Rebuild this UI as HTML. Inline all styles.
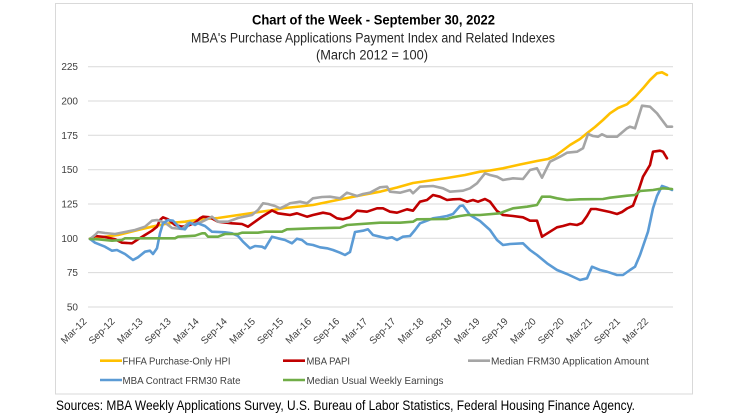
<!DOCTYPE html>
<html>
<head>
<meta charset="utf-8">
<style>
  html, body { margin:0; padding:0; background:#ffffff; }
  body { width:756px; height:420px; overflow:hidden; }
  svg { display:block; }
  text { font-family: "Liberation Sans", Arial, sans-serif; }
</style>
</head>
<body>
<svg width="756" height="420" viewBox="0 0 756 420" xmlns="http://www.w3.org/2000/svg">
  <rect x="0" y="0" width="756" height="420" fill="#ffffff"/>
  <!-- chart box -->
  <rect x="55.5" y="3.5" width="637" height="390.5" fill="#ffffff" stroke="#d9d9d9" stroke-width="1"/>

  <!-- titles -->
  <text x="252" y="24.5" font-size="14" font-weight="bold" fill="#000" textLength="243" lengthAdjust="spacingAndGlyphs">Chart of the Week - September 30, 2022</text>
  <text x="191" y="42.5" font-size="13.5" fill="#262626" textLength="364" lengthAdjust="spacingAndGlyphs">MBA's Purchase Applications Payment Index and Related Indexes</text>
  <text x="316" y="59.3" font-size="13.5" fill="#262626" textLength="112" lengthAdjust="spacingAndGlyphs">(March 2012 = 100)</text>

  <!-- gridlines -->
  <g stroke="#d9d9d9" stroke-width="1">
    <line x1="88" y1="66.7" x2="673" y2="66.7"/>
    <line x1="88" y1="101" x2="673" y2="101"/>
    <line x1="88" y1="135.3" x2="673" y2="135.3"/>
    <line x1="88" y1="169.7" x2="673" y2="169.7"/>
    <line x1="88" y1="204" x2="673" y2="204"/>
    <line x1="88" y1="238.3" x2="673" y2="238.3"/>
    <line x1="88" y1="272.6" x2="673" y2="272.6"/>
    <line x1="88" y1="307" x2="673" y2="307"/>
  </g>

  <!-- y labels -->
  <g font-size="10" fill="#404040" text-anchor="end">
    <text x="78" y="70.2">225</text>
    <text x="78" y="104.5">200</text>
    <text x="78" y="138.8">175</text>
    <text x="78" y="173.2">150</text>
    <text x="78" y="207.5">125</text>
    <text x="78" y="241.8">100</text>
    <text x="78" y="276.1">75</text>
    <text x="78" y="310.5">50</text>
  </g>

  <!-- x labels -->
  <g font-size="10" fill="#404040" text-anchor="end">
    <text transform="translate(87.3,322) rotate(-45)">Mar-12</text>
    <text transform="translate(115.4,322) rotate(-45)">Sep-12</text>
    <text transform="translate(143.5,322) rotate(-45)">Mar-13</text>
    <text transform="translate(171.5,322) rotate(-45)">Sep-13</text>
    <text transform="translate(199.6,322) rotate(-45)">Mar-14</text>
    <text transform="translate(227.7,322) rotate(-45)">Sep-14</text>
    <text transform="translate(255.8,322) rotate(-45)">Mar-15</text>
    <text transform="translate(283.9,322) rotate(-45)">Sep-15</text>
    <text transform="translate(311.9,322) rotate(-45)">Mar-16</text>
    <text transform="translate(340,322) rotate(-45)">Sep-16</text>
    <text transform="translate(368.1,322) rotate(-45)">Mar-17</text>
    <text transform="translate(396.2,322) rotate(-45)">Sep-17</text>
    <text transform="translate(424.3,322) rotate(-45)">Mar-18</text>
    <text transform="translate(452.3,322) rotate(-45)">Sep-18</text>
    <text transform="translate(480.4,322) rotate(-45)">Mar-19</text>
    <text transform="translate(508.5,322) rotate(-45)">Sep-19</text>
    <text transform="translate(536.6,322) rotate(-45)">Mar-20</text>
    <text transform="translate(564.7,322) rotate(-45)">Sep-20</text>
    <text transform="translate(592.7,322) rotate(-45)">Mar-21</text>
    <text transform="translate(620.8,322) rotate(-45)">Sep-21</text>
    <text transform="translate(648.9,322) rotate(-45)">Mar-22</text>
  </g>

  <!-- series -->
  <g fill="none" stroke-width="2.6" stroke-linejoin="round" stroke-linecap="round">
    <!-- FHFA yellow -->
    <polyline stroke="#FFC000" points="90,238.5 100,237.5 110,236 118,235 130,232 140,229.5 152,226.7 165,224 175,222.5 185,221.7 200,219.5 218,218 235,215.5 252,213 270,210.5 285,208 300,206.5 313,205 330,201.5 347,198 365,194.5 380,191.7 397,187.5 413,183 430,180.5 447,178 465,175 480,171.7 490,170.5 503,168.3 520,164.5 537,161 548,159 555,156 562,151 570,145 580,139 587,133.3 595,127 603,120 610,113.3 618,108 627,104.3 635,97 643,88.3 650,80 657,73.3 662,72.3 667,75"/>
    <!-- MBA PAPI red -->
    <polyline stroke="#C00000" points="90,239 95,236 105,237 115,239.3 122,242.7 132,243.3 138,239.3 145,235 152,230.7 157,226.7 160,220 163,217.3 168,219.3 175,225 182,226.7 188,225.7 195,222.7 200,218.3 203,216.7 210,217.3 218,221.7 232,223.3 242,224 248,226.7 255,221.7 262,216.7 272,210.5 278,213.3 285,214.3 290,215 297,213.3 307,216.7 313,215 323,212.7 330,214 337,218.3 343,219.3 350,217.3 357,210.7 367,211.7 377,208.3 383,208.3 390,211.7 397,212.7 407,209.3 413,210.7 420,201.7 427,200 433,195 440,196.7 447,200 453,199.3 460,199 467,201.7 473,200 478,201.7 485,199 490,201.7 497,211 503,215 513,216 523,217.3 530,220.7 537,220.7 542,236.7 550,231.7 557,227.3 563,226 570,224 577,225 582,223 587,216 591,209 596,209 603,210.5 610,212 617,214 622,212 627,208.5 633,205.7 637,195 643,176.7 650,165 653,151.7 660,150.7 663,151.7 667,158.3"/>
    <!-- Median FRM30 Application Amount gray -->
    <polyline stroke="#A5A5A5" points="90,239 95,235 98,232 105,233 115,234 125,232 135,230 145,226.7 152,220.7 157,220 165,222.7 172,228 182,229 188,223 195,224 202,221.7 212,216.7 218,221.7 228,221.7 238,218 252,215 258,210 263,203.3 268,204 275,206 280,208.3 285,206 290,203.3 300,201.7 307,203.3 313,198.3 322,197 330,196.7 340,198.3 347,192.7 357,196 363,194 370,192.7 380,187.3 387,186.7 390,191.7 400,192.7 410,190 413,193.3 420,186.7 433,186 443,188.3 450,191.7 463,190.7 470,188.3 477,183.3 485,173.3 490,175 497,176.7 503,180 513,178.3 523,179 530,170 537,168.3 542,177.7 550,161.7 560,156.7 567,152.7 577,151.7 583,148.3 588,134 593,136 598,136.7 602,134.3 607,136.7 617,136.7 627,128.3 630,126.7 635,128.3 642,105.7 650,106.7 657,113.3 662,120 667,126.7 672,126.7"/>
    <!-- MBA Contract FRM30 Rate blue -->
    <polyline stroke="#5B9BD5" points="90,239 95,242.7 105,246.7 112,250.7 117,250 125,254 133,260 138,257.3 145,251.7 150,250.7 153,254 157,248.3 160,233.3 163,223.3 168,220 173,220.7 180,228.3 185,229.3 190,222.7 195,225 198,223.3 205,226 212,231.7 225,232.3 232,233.3 238,236 243,241.7 250,248.3 255,246 262,246.7 265,248.3 272,236.7 278,238.3 285,240 292,243.3 297,238.7 302,240 307,244 313,245 320,247.3 327,248.3 333,250 340,252.7 345,255 350,252 355,232 363,230.7 368,229.3 373,235 380,236.7 387,238.3 392,237.3 397,240 403,236.7 410,236 415,230 420,223.3 427,220.7 433,218.3 440,217.3 447,216 453,214 460,206 463,205.5 470,215 480,221 490,230 497,240 503,245 510,244 523,243.3 530,250 537,255 547,263.3 557,270 567,274 580,280 587,278.3 592,266.7 600,270 607,271.7 617,275 623,275 630,270 635,266.7 640,255 648,231.7 653,208.3 657,196 662,186 667,187.7 672,190"/>
    <!-- Median Usual Weekly Earnings green -->
    <polyline stroke="#70AD47" points="90,239 98,239.3 112,240.7 122,240 125,238.3 175,238.3 178,236.7 195,235.7 202,233.3 205,233.3 208,236.7 218,236.7 225,234 238,234 242,232.7 258,232.7 265,231.7 282,231.7 287,229.3 313,228.3 340,227.7 347,225 380,222.7 400,222.7 413,221.7 417,219.3 447,219 453,217.3 460,216 467,215 480,215 500,213.3 503,212 513,208.3 527,206.7 537,205 542,196.7 550,196.7 557,198.3 567,200 580,199.3 603,199 610,197.7 627,195.7 635,195 640,191 653,190 663,188.3 672,189"/>
  </g>

  <!-- legend -->
  <g stroke-width="2.6">
    <line x1="100" y1="360.7" x2="122" y2="360.7" stroke="#FFC000"/>
    <line x1="283" y1="360.7" x2="305" y2="360.7" stroke="#C00000"/>
    <line x1="468" y1="360.7" x2="490" y2="360.7" stroke="#A5A5A5"/>
    <line x1="100" y1="380" x2="122" y2="380" stroke="#5B9BD5"/>
    <line x1="283" y1="380" x2="305" y2="380" stroke="#70AD47"/>
  </g>
  <g font-size="10.5" fill="#404040">
    <text x="122.5" y="364.5" textLength="108" lengthAdjust="spacingAndGlyphs">FHFA Purchase-Only HPI</text>
    <text x="306.5" y="364.5" textLength="43.5" lengthAdjust="spacingAndGlyphs">MBA PAPI</text>
    <text x="491" y="364.5" textLength="158" lengthAdjust="spacingAndGlyphs">Median FRM30 Application Amount</text>
    <text x="122.5" y="383.8" textLength="118" lengthAdjust="spacingAndGlyphs">MBA Contract FRM30 Rate</text>
    <text x="306.5" y="383.8" textLength="137" lengthAdjust="spacingAndGlyphs">Median Usual Weekly Earnings</text>
  </g>

  <!-- footer -->
  <text x="56" y="410" font-size="13.5" fill="#000" textLength="579" lengthAdjust="spacingAndGlyphs">Sources: MBA Weekly Applications Survey, U.S. Bureau of Labor Statistics, Federal Housing Finance Agency.</text>
</svg>
</body>
</html>
